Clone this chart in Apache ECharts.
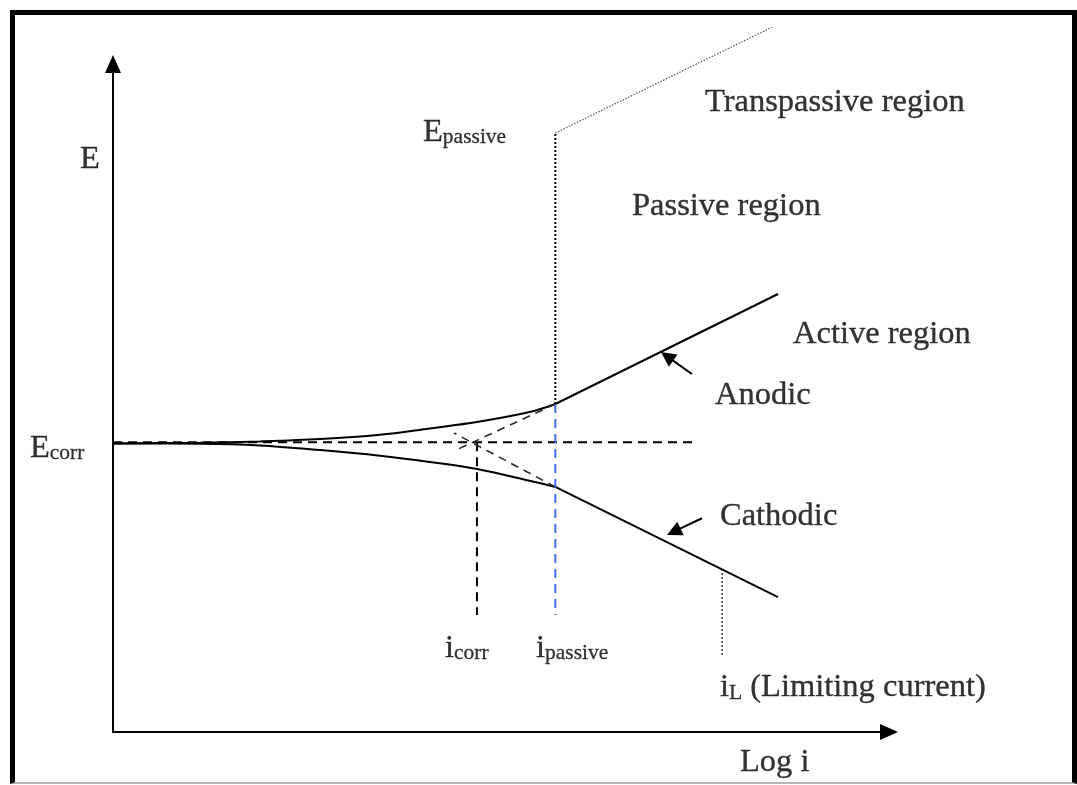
<!DOCTYPE html>
<html><head><meta charset="utf-8">
<script src="https://cdn.jsdelivr.net/npm/echarts@6/dist/echarts.min.js"></script>
<style>
html,body{margin:0;padding:0;background:#fff;}
#frame{position:absolute;left:10px;top:10px;width:1057px;height:767px;border-left:5px solid #000;border-top:5px solid #000;border-right:5px solid #000;border-bottom:2px solid #b5b5b5;}
#chart{position:absolute;left:0;top:0;width:1077px;height:785px;}
</style></head><body>
<div id="frame"></div><div id="chart"></div>
<script>
// ---- schematic data (abstract units: log i 0..100, E 0..100) ----
const logI = [0, 11.2, 18.9, 26.7, 34.4, 40.8, 46.9, 53.7, 57.0, 85.7];
const E_anodic = [43.19, 43.3, 43.5, 43.85, 44.5, 45.45, 46.41, 47.9, 49.1, 65.57];
const E_cathodic = [43.19, 43.15, 42.9, 42.2, 41.35, 40.42, 39.37, 37.6, 36.68, 20.2];
const E_corr = 43.37;
const E_corr_lineEnd = 75.3;
const i_corr = 46.9;
const i_passive = 57.0;
const E_passive = 89.67;
const E_dropBottom = 17.5;
const transpassiveEnd = [84.9, 105.5];
const anodicTafelEnd = [44.2, 42.2];
const cathodicTafelEnd = [43.94, 44.76];
const i_L = 78.5;
const i_L_top = 24.4;
const i_L_bottom = 11.53;
const anodicPointer = [[74.6, 53.6], [71.4, 56.24]];
const cathodicPointer = [[75.9, 32.0], [72.26, 29.99]];

const labelTexts = [
  'E',
  '{m|E}{s|passive}',
  'Transpassive region',
  'Passive region',
  'Active region',
  'Anodic',
  'Cathodic',
  '{m|E}{s|corr}',
  '{m|i}{s|corr}',
  '{m|i}{s|passive}',
  '{m|i}{s|L}{m| (Limiting current)}',
  'Log i'
];
const labelAnchors = [
  [-4.25, 85.75],
  [39.95, 89.75],
  [76.29, 94.25],
  [66.88, 78.65],
  [87.63, 59.5],
  [77.58, 50.4],
  [78.22, 32.3],
  [-10.70, 42.4],
  [42.78, 12.45],
  [54.51, 12.45],
  [78.22, 6.6],
  [80.80, -4.6]
];

const FONT = 'Liberation Serif';
function seg(pts, style, extra) {
  return Object.assign({
    type: 'line', data: pts, showSymbol: false, symbol: 'none', silent: true,
    animation: false, clip: false, lineStyle: style
  }, extra || {});
}
const knee = 8;
const pairs = (ys) => logI.map((x, k) => [x, ys[k]]);

const chart = echarts.init(document.getElementById('chart'), null, {renderer: 'canvas'});
const axisCommon = {
  type: 'value', min: 0, max: 100,
  axisLine: {show: true, onZero: false, symbol: ['none', 'triangle'], symbolSize: [16, 18],
    lineStyle: {color: '#000', width: 2}},
  axisTick: {show: false}, axisLabel: {show: false}, splitLine: {show: false}
};
const option = {
  backgroundColor: 'transparent',
  animation: false,
  grid: {left: 113, right: 188, top: 64, bottom: 53, containLabel: false},
  xAxis: Object.assign({}, axisCommon),
  yAxis: Object.assign({}, axisCommon),
  series: [
    seg(pairs(E_anodic).slice(0, knee + 1), {color: '#000', width: 2}, {smooth: 0.35}),
    seg(pairs(E_anodic).slice(knee), {color: '#000', width: 2}),
    seg(pairs(E_cathodic).slice(0, knee + 1), {color: '#000', width: 2}, {smooth: 0.35}),
    seg(pairs(E_cathodic).slice(knee), {color: '#000', width: 2}),
    seg([[0, E_corr], [E_corr_lineEnd, E_corr]], {color: '#000', width: 2, type: [9, 6]}),
    seg([[i_corr, E_corr], [i_corr, E_dropBottom]], {color: '#000', width: 2, type: [9, 6]}),
    seg([[i_passive, E_anodic[knee]], [i_passive, E_dropBottom]], {color: '#3f6ef0', width: 2, type: [9, 6]}),
    seg([[i_passive, E_anodic[knee]], anodicTafelEnd], {color: '#2a2a2a', width: 1.6, type: [8, 6]}),
    seg([[i_passive, E_cathodic[knee]], cathodicTafelEnd], {color: '#2a2a2a', width: 1.6, type: [8, 6]}),
    seg([[i_passive, E_anodic[knee]], [i_passive, E_passive]], {color: '#000', width: 2, type: [2, 2]}),
    seg([[i_passive, E_passive], transpassiveEnd], {color: '#555', width: 1.2, type: [1.5, 1.5]}),
    seg([[i_L, i_L_top], [i_L, i_L_bottom]], {color: '#222', width: 1.4, type: [2, 2]}),
    {
      type: 'lines', coordinateSystem: 'cartesian2d', silent: true, animation: false,
      symbol: ['none', 'triangle'], symbolSize: 15,
      lineStyle: {color: '#000', width: 2, opacity: 1},
      data: [{coords: anodicPointer}, {coords: cathodicPointer}]
    },
    {
      type: 'scatter', silent: true, animation: false, clip: false,
      symbolSize: 1, itemStyle: {color: 'transparent'},
      data: labelAnchors.map((p, k) => ({value: p, label: {formatter: labelTexts[k]}})),
      label: {
        show: true, position: 'inside', align: 'left', verticalAlign: 'middle',
        color: '#000', fontFamily: FONT, fontSize: 32.5, textBorderColor: '#000', textBorderWidth: 0.35,
        rich: {
          m: {fontFamily: FONT, fontSize: 32.5, lineHeight: 32, verticalAlign: 'bottom', color: '#000', textBorderColor: '#000', textBorderWidth: 0.35},
          s: {fontFamily: FONT, fontSize: 21.5, lineHeight: 16, verticalAlign: 'bottom', color: '#000', textBorderColor: '#000', textBorderWidth: 0.3}
        }
      },
      labelLayout: {hideOverlap: false}
    }
  ]
};
chart.setOption(option);
</script>
</body></html>
